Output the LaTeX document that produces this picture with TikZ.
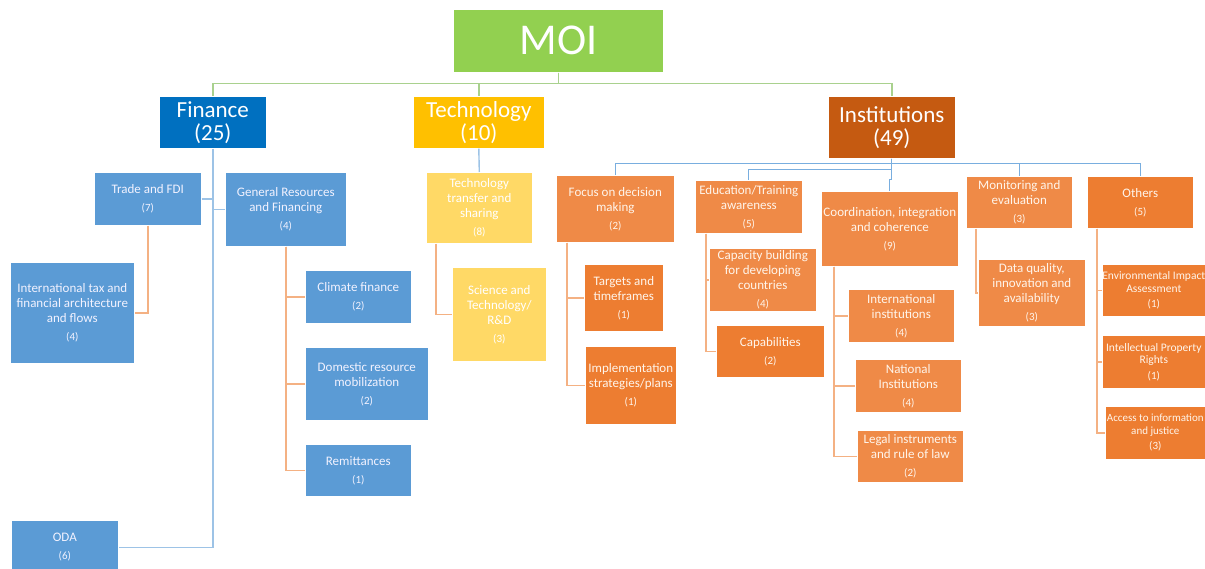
\documentclass[tikz,border=0pt]{standalone}
\usepackage{fontspec}
\setmainfont{Carlito}
\usepackage{tikz}

\definecolor{moigreen}{HTML}{92D050}
\definecolor{finblue}{HTML}{0070C0}
\definecolor{finlight}{HTML}{5B9BD5}
\definecolor{techgold}{HTML}{FFC000}
\definecolor{techlight}{HTML}{FFD966}
\definecolor{instbrown}{HTML}{C55A11}
\definecolor{instmid}{HTML}{EF8A47}
\definecolor{instdark}{HTML}{ED7D31}
\definecolor{greenline}{HTML}{A9D18E}
\definecolor{blueline}{HTML}{9DC3E6}
\definecolor{instline}{HTML}{79AEDF}
\definecolor{orangeline}{HTML}{F4B183}

\newcommand{\tally}[1]{\\[3pt]{\fontsize{11}{13}\selectfont(#1)}}

\begin{document}
\begin{tikzpicture}
%MOI chart	
	[
	 	 %Styles
       x=1pt, y=-1pt,
       plain_box/.style={rectangle,draw=white,line width=0.6pt,anchor=north west,
                         align=center,inner sep=0pt,text=white,
                         font=\fontsize{13}{15}\selectfont},
       moi_node/.style={plain_box,fill=moigreen,font=\fontsize{44}{50}\selectfont},
       head_node/.style={plain_box,font=\fontsize{23}{23}\selectfont},
		 fin_node/.style={plain_box,fill=finlight,text=blue!5!white},
		 tech_node/.style={plain_box,fill=techlight},
		 inst_node/.style={plain_box,fill=instmid,text=orange!8!white},
		 inst_leaf/.style={plain_box,fill=instdark,text=orange!8!white},
		 edge_leaf/.style={inst_leaf,font=\fontsize{11.5}{12.5}\selectfont},
       moi_line/.style={draw=greenline,line width=1.4pt},
       blue_line/.style={draw=blueline,line width=1.4pt},
       inst_bus/.style={draw=instline,line width=1.3pt},
       sub_line/.style={draw=orangeline,line width=1.4pt}
    ]
    \useasboundingbox (0,0) rectangle (1205,568);
    \clip (0,0) rectangle (1205,568);

    %Node placement
    %Level 0
    \node (moi) [moi_node,minimum width=210,minimum height=63] at (453,9) {MOI};
    %Level 1
    \node (fin) [head_node,fill=finblue,minimum width=107,minimum height=52] at (159,96) {Finance\\(25)};
    \node (tech) [head_node,fill=techgold,minimum width=131,minimum height=52] at (413,96) {Technology\\(10)};
    \node (inst) [head_node,fill=instbrown,minimum width=127,minimum height=62] at (828,96) {Institutions\\(49)};

    %Finance branch
    \node (trade) [fin_node,minimum width=107,minimum height=53] at (94,172) {Trade and FDI\tally{7}};
    \node (genres) [fin_node,minimum width=121,minimum height=74] at (225,172) {General Resources\\and Financing\tally{4}};
    \node (inttax) [fin_node,minimum width=124,minimum height=101] at (10,262) {International tax and\\financial architecture\\and flows\tally{4}};
    \node (oda) [fin_node,minimum width=107,minimum height=54] at (11,520) {ODA\tally{6}};
    \node (climate) [fin_node,minimum width=106,minimum height=53] at (305,270) {Climate finance\tally{2}};
    \node (domestic) [fin_node,minimum width=123,minimum height=73] at (305,347) {Domestic resource\\mobilization\tally{2}};
    \node (remit) [fin_node,minimum width=106,minimum height=52] at (305,444) {Remittances\tally{1}};

    %Technology branch
    \node (transfer) [tech_node,minimum width=106,minimum height=71] at (426,172) {Technology\\transfer and\\sharing\tally{8}};
    \node (science) [tech_node,minimum width=94,minimum height=94] at (452,267) {Science and\\Technology/\\R\&D\tally{3}};

    %Institutions branch
    \node (focus) [inst_node,minimum width=118,minimum height=67] at (556,175) {Focus on decision\\making\tally{2}};
    \node (targets) [inst_leaf,minimum width=79,minimum height=67] at (584,264) {Targets and\\timeframes\tally{1}};
    \node (implement) [inst_leaf,minimum width=91,minimum height=78] at (585,346) {Implementation\\strategies/plans\tally{1}};
    \node (edu) [inst_node,minimum width=107,minimum height=53] at (695,180) {Education/Training\\awareness\tally{5}};
    \node (capacity) [inst_node,minimum width=107,minimum height=63] at (709,248) {Capacity building\\for developing\\countries\tally{4}};
    \node (capab) [inst_leaf,minimum width=108,minimum height=52] at (716,325) {Capabilities\tally{2}};
    \node (coord) [inst_node,minimum width=137,minimum height=75] at (821,191) {Coordination, integration\\and coherence\tally{9}};
    \node (intinst) [inst_node,minimum width=106,minimum height=53] at (848,289) {International\\institutions\tally{4}};
    \node (natinst) [inst_node,minimum width=106,minimum height=53] at (855,359) {National\\Institutions\tally{4}};
    \node (legal) [inst_node,minimum width=106,minimum height=52] at (857,430) {Legal instruments\\and rule of law\tally{2}};
    \node (monitor) [inst_node,minimum width=106,minimum height=52] at (966,176) {Monitoring and\\evaluation\tally{3}};
    \node (dataq) [inst_node,minimum width=107,minimum height=67] at (978,259) {Data quality,\\innovation and\\availability\tally{3}};
    \node (others) [inst_leaf,minimum width=106,minimum height=52] at (1087,176) {Others\tally{5}};
    %boxes running into the right edge
    \node (envimp) [edge_leaf,minimum width=103,minimum height=52] at (1102,264) {Environmental Impact\\Assessment\tally{1}};
    \node (ipr) [edge_leaf,minimum width=103,minimum height=53] at (1102,335) {Intellectual Property\\Rights\tally{1}};
    \node (access) [edge_leaf,minimum width=100,minimum height=53,font=\fontsize{11}{12.5}\selectfont] at (1105,406) {Access to information\\and justice\tally{3}};

   %Edges
   \draw[moi_line] (moi.south) -- ++(0,11) -| (fin.north);
   \draw[moi_line] (moi.south) -- ++(0,11) -| (tech.north);
   \draw[moi_line] (moi.south) -- ++(0,11) -| (inst.north);

   \draw[blue_line] (fin.south) |- (oda.east);
   \draw[blue_line] (trade.east) -- (trade.east -| fin.south);
   \draw[blue_line] (genres.west) -- (genres.west -| fin.south);
   \draw[sub_line] (trade.south) |- (inttax.east);
   \draw[sub_line] (genres.south) |- (climate.west);
   \draw[sub_line] (genres.south) |- (domestic.west);
   \draw[sub_line] (genres.south) |- (remit.west);

   \draw[blue_line] (tech.south) -- (transfer.north);
   \draw[sub_line] ([xshift=10]transfer.south west) |- (science.west);

   \draw[inst_bus] (inst.south) -- ++(0,5) -| (focus.north);
   \draw[inst_bus] (inst.south) -- ++(0,5) -| (monitor.north);
   \draw[inst_bus] (inst.south) -- ++(0,5) -| (others.north);
   \draw[inst_bus] (inst.south) -- ++(0,11) -| (edu.north);
   \draw[inst_bus] (inst.south) -- ++(0,21) -| (coord.north);

   \draw[sub_line] ([xshift=11]focus.south west) |- (targets.west);
   \draw[sub_line] ([xshift=11]focus.south west) |- (implement.west);
   \draw[sub_line] ([xshift=11]edu.south west) |- (capacity.west);
   \draw[sub_line] ([xshift=11]edu.south west) |- (capab.west);
   \draw[sub_line] ([xshift=13]coord.south west) |- (intinst.west);
   \draw[sub_line] ([xshift=13]coord.south west) |- (natinst.west);
   \draw[sub_line] ([xshift=13]coord.south west) |- (legal.west);
   \draw[sub_line] ([xshift=10]monitor.south west) |- (dataq.west);
   \draw[sub_line] ([xshift=10]others.south west) |- (envimp.west);
   \draw[sub_line] ([xshift=10]others.south west) |- (ipr.west);
   \draw[sub_line] ([xshift=10]others.south west) |- (access.west);
\end{tikzpicture}
\end{document}
